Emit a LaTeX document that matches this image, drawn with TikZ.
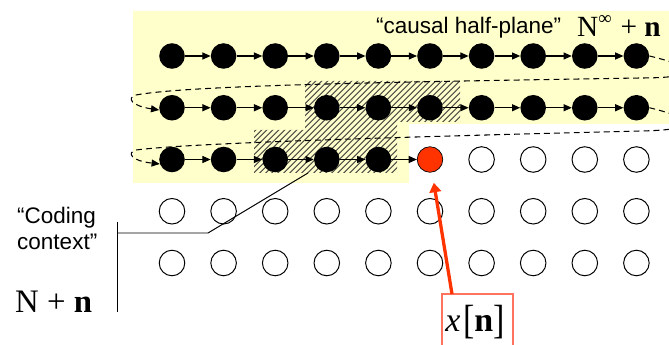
\documentclass[tikz,border=0pt]{standalone}
\usepackage{fontspec}
\setmainfont{Liberation Sans}
\newfontfamily\timesfont{Liberation Serif}
\usetikzlibrary{arrows.meta,patterns.meta}
\definecolor{planeyellow}{RGB}{255,255,204}
\definecolor{hatchgray}{RGB}{85,85,75}
\definecolor{curred}{RGB}{255,51,0}
\definecolor{boxred}{RGB}{255,115,95}
\newcommand{\lbl}{\fontsize{19.2pt}{22.5pt}\selectfont}

\tikzset{
  pixel/.style={circle,inner sep=0pt,minimum size=21.8pt},
  past/.style={pixel,fill=black},
  current/.style={pixel,fill=curred,draw=black,line width=0.6pt},
  future/.style={pixel,draw=black,line width=0.85pt},
  scan/.style={line width=0.9pt,-{Triangle[length=7pt,width=6pt]}},
  wrap/.style={scan,dash pattern=on 5pt off 3.5pt},
  pointer/.style={curred,line width=2.8pt,-{Triangle[length=8pt,width=10pt]}},
}

\begin{document}
\begin{tikzpicture}[x=0.03cm,y=-0.03cm]
  \useasboundingbox (0,0) rectangle (669,345);
  \clip (0,0) rectangle (669,345);
  % causal half-plane and coding context
  \fill[planeyellow] (133,11) -| (669,124) -| (409,183) -| cycle;
  \fill[pattern={Lines[angle=45,distance=4pt,line width=1.1pt]},pattern color=hatchgray]
    (305,81) -- (460,81) -- (460,122) -- (397,122) -- (397,173)
    -- (254,173) -- (254,130) -- (305,130) -- cycle;
  % pixels
  \foreach \r/\n in {1/10,2/10,3/5}{
    \foreach \c in {1,...,\n}{
      \node[past] (p-\r-\c) at ({120.4+51.6*\c},{4.25+51.75*\r}) {};
    }
  }
  \node[current] (p-3-6) at ({120.4+51.6*6},{4.25+51.75*3}) {};
  \foreach \c in {7,...,10}{
    \node[future] (p-3-\c) at ({120.4+51.6*\c},{4.25+51.75*3}) {};
  }
  \foreach \r in {4,5}{
    \foreach \c in {1,...,10}{
      \node[future] (p-\r-\c) at ({120.4+51.6*\c},{4.25+51.75*\r}) {};
    }
  }
  % scan order
  \foreach \r/\n in {1/9,2/9,3/5}{
    \foreach \c [evaluate=\c as \d using int(\c+1)] in {1,...,\n}{
      \draw[scan] (p-\r-\c) -- (p-\r-\d);
    }
  }
  \draw[wrap] (p-1-10.east) .. controls (700,68) and (700,78) .. (640,78)
    .. controls (400,82) and (190,85) .. (136,95)
    .. controls (126,98) and (132,106) .. (p-2-1.190);
  \draw[wrap] (p-2-10.east) .. controls (700,120) and (700,130) .. (640,131)
    .. controls (400,137) and (190,143) .. (136,150)
    .. controls (126,153) and (132,161) .. (p-3-1.200);
  % labels
  \node[anchor=base west,inner sep=0pt,font=\lbl] (causal) at (376,33.3) {“causal half-plane”};
  \node[anchor=base west,inner sep=0pt] (causalm) at (577,36.7)
    {\fontsize{25pt}{27pt}\selectfont\timesfont N\raisebox{0.42em}{\fontsize{16pt}{17pt}\selectfont ∞}\hspace{0.3em}+\hspace{0.25em}\bfseries n};
  \node[anchor=base west,inner sep=0pt,align=left,font=\lbl] (ctx) at (17,249.5) {“Coding\\context”};
  \node[anchor=base west,inner sep=0pt] (ctxm) at (15,313)
    {\fontsize{28pt}{30pt}\selectfont\timesfont N\hspace{0.25em}+\hspace{0.25em}\bfseries n};
  \coordinate (brk-top) at (117,222);
  \coordinate (brk-bot) at (117,312);
  \coordinate (ctx-start) at (117,233);
  \coordinate (ctx-bend) at (208,233);
  \coordinate (ctx-end) at (308,173);
  \draw[line width=0.85pt] (brk-top) -- (brk-bot);
  \draw[line width=0.85pt] (ctx-start) -- (ctx-bend) -- (ctx-end);
  % current sample
  \node[inner sep=0pt] (xn) at (475,322)
    {\fontsize{29pt}{31pt}\selectfont\timesfont\itshape x\upshape\hspace{0.08em}\raisebox{-0.05em}{\scalebox{1}[1.2]{[}}\bfseries n\mdseries\raisebox{-0.05em}{\scalebox{1}[1.2]{]}}};
  \coordinate (box-bl) at (442,350);
  \coordinate (box-tl) at (442,294);
  \coordinate (box-tr) at (513,294);
  \coordinate (box-br) at (513,350);
  \coordinate (box-tip) at (452,294);
  \draw[boxred,line width=0.9pt] (box-bl) -- (box-tl) -- (box-tr) -- (box-br);
  \draw[pointer,shorten >=9pt] (box-tip) -- (p-3-6);
\end{tikzpicture}
\end{document}
